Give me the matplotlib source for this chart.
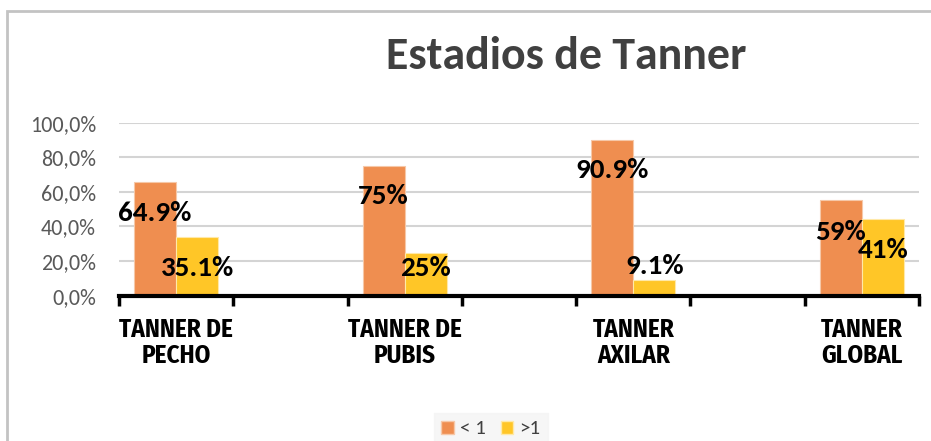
import matplotlib
matplotlib.use("Agg")
import matplotlib.pyplot as plt
from matplotlib.patches import Rectangle, Patch
import numpy as np

# ---- data ----
categories = ["TANNER DE\nPECHO", "TANNER DE\nPUBIS", "TANNER\nAXILAR", "TANNER\nGLOBAL"]
series_names = ["< 1", ">1"]
values_lt1 = [65.6, 74.8, 89.9, 55.3]
values_gt1 = [33.9, 24.8, 9.0, 44.1]
labels_lt1 = ["64.9%", "75%", "90.9%", "59%"]
labels_gt1 = ["35.1%", "25%", "9.1%", "41%"]
# vertical position of each data label (manually placed in the original)
label_y_lt1 = [48, 57.8, 72.8, 37]
label_y_gt1 = [16.2, 16.2, 17, 26.6]
yticks = [0, 20, 40, 60, 80, 100]
ytick_labels = ["0,0%", "20,0%", "40,0%", "60,0%", "80,0%", "100,0%"]
title = "Estadios de Tanner"

c_orange = "#EF8E50"
c_yellow = "#FFC627"
FONT = ["Carlito", "DejaVu Sans"]
NARROW = ["Fira Sans Condensed", "Carlito", "DejaVu Sans"]

W, H = 931, 441
fig = plt.figure(figsize=(W / 100, H / 100), dpi=100)
fig.patch.set_facecolor("white")

# chart border (top and left visible)
fig.add_artist(Rectangle((7 / W, -0.05), 1.2, (H - 10.5) / H + 0.05, transform=fig.transFigure,
                         fill=False, edgecolor="#C3C3C3", linewidth=2))

ax = fig.add_axes([119 / W, (H - 295.6) / H, (919 - 119) / W, (295.6 - 122.7) / H])

# categories occupy every other slot (empty slots between them, as in the original)
x = np.arange(len(categories)) * 2
bw = 0.367
ax.bar(x - bw / 2, values_lt1, bw, color=c_orange, edgecolor="#F6C8A8", linewidth=0.8, zorder=3)
ax.bar(x + bw / 2, values_gt1, bw, color=c_yellow, edgecolor="#FFE9A8", linewidth=0.8, zorder=3)

lab_font = dict(family=FONT, weight="bold", size=21, color="black")
for xi, ly, lab in zip(x - bw / 2, label_y_lt1, labels_lt1):
    ax.text(xi, ly, lab, ha="center", va="center", zorder=5, **lab_font)
for xi, ly, lab in zip(x + bw / 2, label_y_gt1, labels_gt1):
    ax.text(xi, ly, lab, ha="center", va="center", zorder=5, **lab_font)

ax.set_xlim(-0.5, 2 * len(categories) - 1.5)
ax.set_ylim(0, 100)
ax.set_yticks(yticks)
ax.set_yticklabels(ytick_labels, family=FONT, size=15.8, color="#595959")
ax.tick_params(axis="y", length=0, pad=16.5)
ax.yaxis.grid(True, color="#D4D4D4", linewidth=1.5, zorder=0)
ax.set_axisbelow(True)

ax.set_xticks(np.arange(-0.5, 2 * len(categories) - 1, 1.0))
ax.set_xticklabels([])
ax.tick_params(axis="x", length=7, width=2.5, color="black", direction="out")
for xi, cat in zip(x, categories):
    ax.text(xi, -12.5, cat, ha="center", va="top", family=NARROW, weight="bold",
            size=18, color="black", linespacing=1.1, transform=ax.transData, clip_on=False)

for s in ["left", "right", "top"]:
    ax.spines[s].set_visible(False)
ax.spines["bottom"].set_linewidth(3)
ax.spines["bottom"].set_color("black")
ax.spines["bottom"].set_zorder(6)

fig.text(566 / W, 1 - 69 / H, title, ha="center", va="baseline", family=FONT,
         weight="bold", size=33, color="#404040")

handles = [Patch(facecolor=c_orange, edgecolor="#F6C8A8"), Patch(facecolor=c_yellow, edgecolor="#FFE9A8")]
leg = fig.legend(handles, series_names, loc="center", bbox_to_anchor=(491 / W, 1 - 429 / H), ncol=2,
                 frameon=True, prop=dict(family=FONT, size=15), handlelength=0.6, handleheight=0.6,
                 handletextpad=0.3, columnspacing=0.7, borderpad=0.35, labelcolor="#404040")
leg.get_frame().set_facecolor("#F4F4F4")
leg.get_frame().set_edgecolor("#F4F4F4")
leg.get_frame().set_boxstyle("square", pad=0)

fig.savefig("out.png", dpi=100)
